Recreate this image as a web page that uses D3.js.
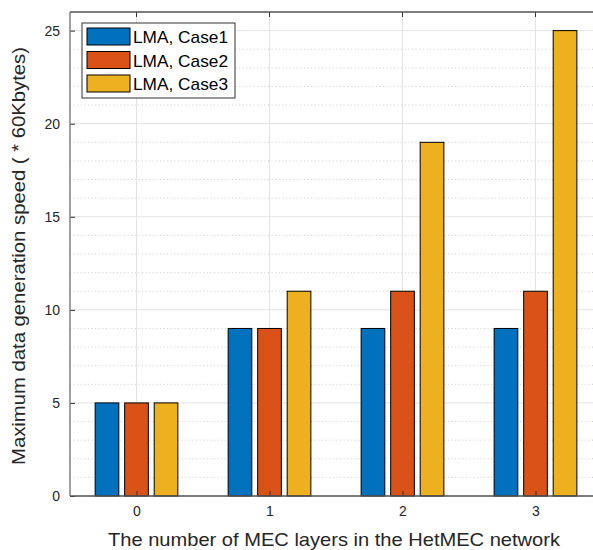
<!DOCTYPE html>
<html>
<head>
<meta charset="utf-8">
<script src="https://cdn.jsdelivr.net/npm/d3@7"></script>
<style>
  body { margin: 0; background: #fff; }
  text { font-family: "Liberation Sans", Arial, sans-serif; }
</style>
</head>
<body>
<div id="chart"></div>
<script>
// Data
var layers = [0, 1, 2, 3];
var seriesNames = ["LMA, Case1", "LMA, Case2", "LMA, Case3"];
var case1 = [5, 9, 9, 9];
var case2 = [5, 9, 11, 11];
var case3 = [5, 11, 19, 25];
var colors = ["#0072BD", "#D95319", "#EDB120"];
var yTicks = [0, 5, 10, 15, 20, 25];

var series = [case1, case2, case3];

var width = 593, height = 550;
var margin = { left: 70, top: 12, right: -9, bottom: 54 };

var svg = d3.select("#chart").append("svg")
    .attr("width", width)
    .attr("height", height);

var x = d3.scaleLinear().domain([-0.5, 3.5]).range([margin.left, width - margin.right]);
var y = d3.scaleLinear().domain([0, 26]).range([height - margin.bottom, margin.top]);

var plotTop = y(26), plotBottom = y(0), plotLeft = x(-0.5), plotRight = x(3.5);

// Minor grid (dotted)
d3.range(1, 26).filter(function(v) { return v % 5 !== 0; }).forEach(function(v) {
    svg.append("line")
        .attr("x1", plotLeft).attr("x2", plotRight)
        .attr("y1", y(v)).attr("y2", y(v))
        .attr("stroke", "#c4c4c4")
        .attr("stroke-width", 0.9)
        .attr("stroke-dasharray", "1,2.6");
});

// Major grid
yTicks.concat([26]).forEach(function(v) {
    svg.append("line")
        .attr("x1", plotLeft).attr("x2", plotRight)
        .attr("y1", y(v)).attr("y2", y(v))
        .attr("stroke", "#e3e3e3")
        .attr("stroke-width", 1);
});
layers.forEach(function(v) {
    svg.append("line")
        .attr("x1", x(v)).attr("x2", x(v))
        .attr("y1", plotTop).attr("y2", plotBottom)
        .attr("stroke", "#e3e3e3")
        .attr("stroke-width", 1);
});

// Bars
var barW = 0.178, offset = 0.222;
series.forEach(function(s, i) {
    svg.append("g").selectAll("rect")
        .data(s)
        .enter().append("rect")
        .attr("x", function(d, j) { return x(layers[j] + (i - 1) * offset - barW / 2); })
        .attr("width", x(barW) - x(0))
        .attr("y", function(d) { return y(d); })
        .attr("height", function(d) { return y(0) - y(d); })
        .attr("fill", colors[i])
        .attr("stroke", "#000")
        .attr("stroke-width", 1);
});

// Axes
var xAxis = d3.axisBottom(x).tickValues(layers).tickSize(-5).tickPadding(10).tickFormat(d3.format("d"));
var yAxis = d3.axisLeft(y).tickValues(yTicks).tickSize(-5).tickPadding(10);

var gx = svg.append("g").attr("transform", "translate(0," + plotBottom + ")").call(xAxis);
var gy = svg.append("g").attr("transform", "translate(" + plotLeft + ",0)").call(yAxis);
[gx, gy].forEach(function(g) {
    g.select(".domain").remove();
    g.selectAll(".tick line").attr("stroke", "#333");
    g.selectAll(".tick text").attr("fill", "#262626").style("font-size", "14px");
});

// Top ticks
layers.forEach(function(v) {
    svg.append("line")
        .attr("x1", x(v)).attr("x2", x(v))
        .attr("y1", plotTop).attr("y2", plotTop + 5)
        .attr("stroke", "#333");
});

// Box
svg.append("line").attr("x1", plotLeft).attr("x2", plotRight).attr("y1", plotBottom).attr("y2", plotBottom)
    .attr("stroke", "#555").attr("stroke-width", 1.4);
svg.append("line").attr("x1", plotLeft).attr("x2", plotRight).attr("y1", plotTop).attr("y2", plotTop)
    .attr("stroke", "#555").attr("stroke-width", 1.4);
svg.append("line").attr("x1", plotLeft).attr("x2", plotLeft).attr("y1", plotTop).attr("y2", plotBottom)
    .attr("stroke", "#777").attr("stroke-width", 1.4);

// Axis labels
svg.append("text")
    .attr("x", 108)
    .attr("y", 546)
    .attr("fill", "#262626")
    .attr("textLength", 452)
    .attr("lengthAdjust", "spacingAndGlyphs")
    .style("font-size", "18.5px")
    .text("The number of MEC layers in the HetMEC network");

svg.append("text")
    .attr("transform", "translate(25," + ((plotTop + plotBottom) / 2 + 2) + ") rotate(-90)")
    .attr("text-anchor", "middle")
    .attr("fill", "#262626")
    .attr("textLength", 418)
    .attr("lengthAdjust", "spacingAndGlyphs")
    .style("font-size", "18.5px")
    .text("Maximum data generation speed ( * 60Kbytes)");

// Legend
var legend = svg.append("g").attr("transform", "translate(82,23)");
legend.append("rect")
    .attr("width", 153).attr("height", 75)
    .attr("fill", "#fff")
    .attr("stroke", "#333")
    .attr("stroke-width", 1);
seriesNames.forEach(function(name, i) {
    var row = legend.append("g").attr("transform", "translate(0," + (5 + i * 23.5) + ")");
    row.append("rect")
        .attr("x", 5).attr("width", 43).attr("height", 17)
        .attr("fill", colors[i])
        .attr("stroke", "#000")
        .attr("stroke-width", 1);
    row.append("text")
        .attr("x", 51).attr("y", 15)
        .attr("fill", "#000")
        .attr("textLength", 95)
        .attr("lengthAdjust", "spacingAndGlyphs")
        .style("font-size", "17px")
        .text(name);
});
</script>
</body>
</html>
